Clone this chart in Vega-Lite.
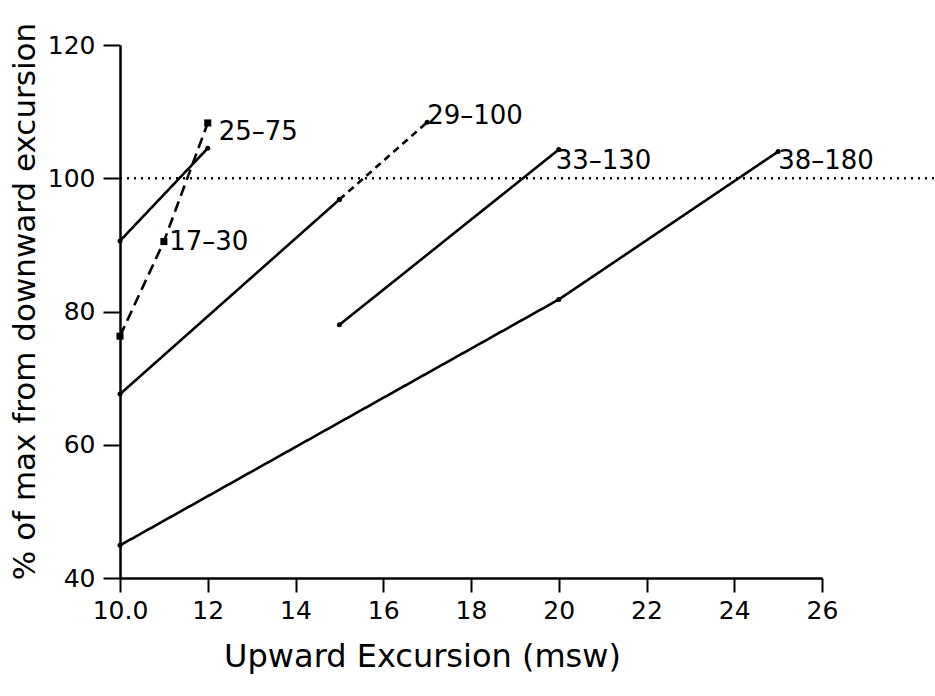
{
  "$schema": "https://vega.github.io/schema/vega-lite/v6.json",
  "autosize": "none",
  "width": 702,
  "height": 533,
  "padding": {"left": 120, "top": 45, "right": 113, "bottom": 118},
  "background": "white",
  "config": {"view": {"stroke": null}, "font": "DejaVu Sans"},
  "datasets": {
    "lines": [
      {"series": "17-30", "seg": "17-30", "style": "longdash", "x": 10, "y": 76.3},
      {"series": "17-30", "seg": "17-30", "style": "longdash", "x": 11, "y": 90.5},
      {"series": "17-30", "seg": "17-30", "style": "longdash", "x": 12, "y": 108.3},
      {"series": "25-75", "seg": "25-75", "style": "solid", "x": 10, "y": 90.6},
      {"series": "25-75", "seg": "25-75", "style": "solid", "x": 12, "y": 104.5},
      {"series": "29-100", "seg": "29-100a", "style": "solid", "x": 10, "y": 67.6},
      {"series": "29-100", "seg": "29-100a", "style": "solid", "x": 15, "y": 96.8},
      {"series": "29-100", "seg": "29-100b", "style": "dashed", "x": 15, "y": 96.8},
      {"series": "29-100", "seg": "29-100b", "style": "dashed", "x": 17, "y": 108.4},
      {"series": "33-130", "seg": "33-130", "style": "solid", "x": 15, "y": 78.0},
      {"series": "33-130", "seg": "33-130", "style": "solid", "x": 20, "y": 104.3},
      {"series": "38-180", "seg": "38-180", "style": "solid", "x": 10, "y": 44.9},
      {"series": "38-180", "seg": "38-180", "style": "solid", "x": 20, "y": 81.8},
      {"series": "38-180", "seg": "38-180", "style": "solid", "x": 25, "y": 104.0}
    ],
    "labels": [
      {"label": "25–75", "x": 12.25, "y": 107.0},
      {"label": "17–30", "x": 11.12, "y": 90.4},
      {"label": "29–100", "x": 17.0, "y": 109.3},
      {"label": "33–130", "x": 19.93, "y": 102.6},
      {"label": "38–180", "x": 25.0, "y": 102.6}
    ],
    "ref": [{"x": 10, "x2": 28.6, "y": 100}]
  },
  "layer": [
    {
      "data": {"name": "ref"},
      "mark": {"type": "rule", "color": "black", "strokeWidth": 2.4, "strokeDash": [2, 5]},
      "encoding": {
        "x": {"field": "x", "type": "quantitative", "scale": {"domain": [10, 26]}},
        "x2": {"field": "x2"},
        "y": {"field": "y", "type": "quantitative"}
      }
    },
    {
      "data": {"name": "lines"},
      "mark": {"type": "line", "color": "black", "strokeWidth": 2.6},
      "encoding": {
        "x": {
          "field": "x", "type": "quantitative",
          "scale": {"domain": [10, 26], "nice": false, "zero": false},
          "axis": {
            "values": [10, 12, 14, 16, 18, 20, 22, 24, 26],
            "labelExpr": "datum.value == 10 ? '10.0' : datum.label",
            "labelFlush": false,
            "title": "Upward Excursion (msw)",
            "titleFontSize": 32, "titleFontWeight": "normal", "titleColor": "black", "titlePadding": 18,
            "titleX": 302, "titleAnchor": "middle",
            "labelFontSize": 25, "labelColor": "black", "labelPadding": 6,
            "grid": false, "domainColor": "black", "domainWidth": 2.5,
            "tickColor": "black", "tickWidth": 2, "tickSize": 14
          }
        },
        "y": {
          "field": "y", "type": "quantitative",
          "scale": {"domain": [40, 120], "nice": false, "zero": false},
          "axis": {
            "values": [40, 60, 80, 100, 120],
            "title": "% of max from downward excursion",
            "titleFontSize": 31, "titleFontWeight": "normal", "titleColor": "black", "titlePadding": 6,
            "titleY": 256, "titleAnchor": "middle",
            "labelFontSize": 25, "labelColor": "black", "labelPadding": 8,
            "grid": false, "domainColor": "black", "domainWidth": 2.5,
            "tickColor": "black", "tickWidth": 2, "tickSize": 17
          }
        },
        "detail": {"field": "seg"},
        "strokeDash": {
          "field": "style", "type": "nominal",
          "scale": {"domain": ["solid", "dashed", "longdash"], "range": [[1, 0], [7, 5], [11, 6]]},
          "legend": null
        }
      }
    },
    {
      "data": {"name": "lines"},
      "transform": [{"filter": "datum.series == '17-30'"}],
      "mark": {"type": "square", "color": "black", "filled": true, "size": 50, "opacity": 1},
      "encoding": {
        "x": {"field": "x", "type": "quantitative"},
        "y": {"field": "y", "type": "quantitative"}
      }
    },
    {
      "data": {"name": "lines"},
      "transform": [{"filter": "datum.series != '17-30'"}],
      "mark": {"type": "circle", "color": "black", "size": 25, "opacity": 1},
      "encoding": {
        "x": {"field": "x", "type": "quantitative"},
        "y": {"field": "y", "type": "quantitative"}
      }
    },
    {
      "data": {"name": "labels"},
      "mark": {"type": "text", "align": "left", "baseline": "middle", "fontSize": 26, "color": "black"},
      "encoding": {
        "x": {"field": "x", "type": "quantitative"},
        "y": {"field": "y", "type": "quantitative"},
        "text": {"field": "label"}
      }
    }
  ]
}
